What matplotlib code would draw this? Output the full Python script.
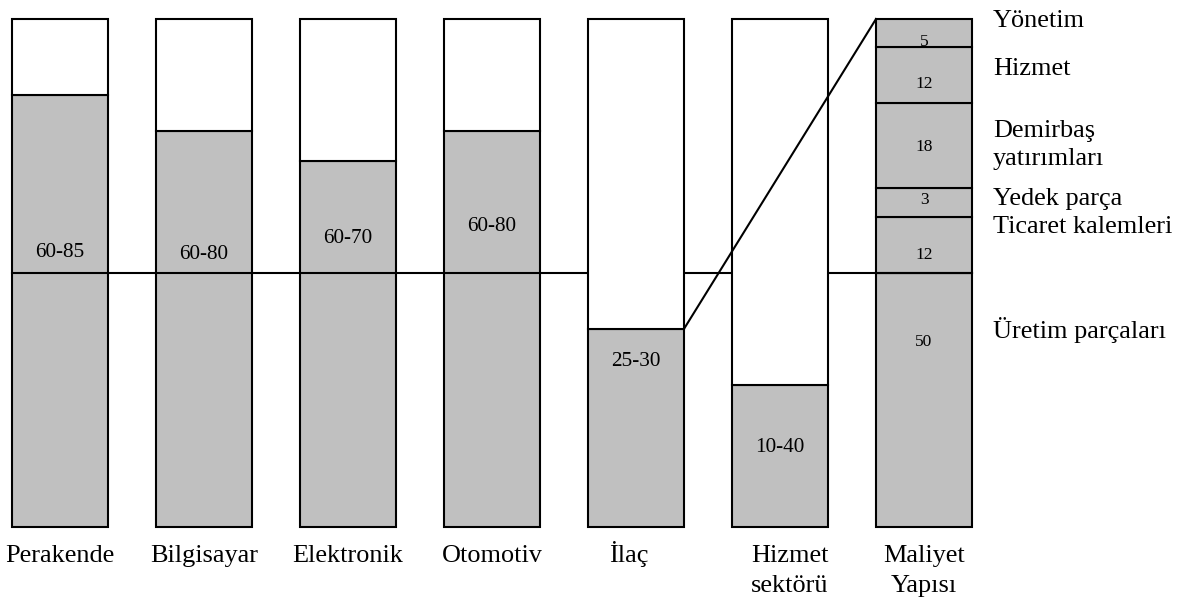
import numpy as np
import matplotlib.pyplot as plt

plt.rcParams['font.family'] = ['Liberation Serif', 'DejaVu Serif']

# sektorler ve gri kisim yukseklikleri (toplam = 100)
sectors = ['Perakende', 'Bilgisayar', 'Elektronik', 'Otomotiv', 'İlaç', 'Hizmet\nsektörü']
shares = [85, 78, 72, 78, 39, 28]
share_labels = ['60-85', '60-80', '60-70', '60-80', '25-30', '10-40']
share_label_y = [54.1, 53.7, 56.7, 59.1, 32.5, 15.6]

# maliyet yapisi dilimleri (alttan yukari)
cost_heights = [50, 11, 5.7, 16.7, 11, 5.6]
cost_labels = ['50', '12', '3', '18', '12', '5']
cost_label_y = [36.4, 53.5, 64.4, 74.8, 87.2, 95.5]
cost_names = ['Üretim parçaları', 'Ticaret kalemleri', 'Yedek parça', 'yatırımları', 'Demirbaş', 'Hizmet', 'Yönetim']
cost_name_y = [37.2, 57.9, 63.4, 71.3, 76.8, 89.0, 98.4]

gray = '#c0c0c0'
w = 96 / 144.0
lw = 1.5

fig = plt.figure(figsize=(11.93, 6.03), dpi=100)
ax = fig.add_axes([0, 0, 1, 1])
ax.set_xlim(-60 / 144.0, (1193 - 60) / 144.0)
ax.set_ylim(-(603 - 527) / 5.08, 100 + 19 / 5.08)
ax.axis('off')

x = np.arange(len(sectors))
n = len(sectors)

# gri kisim
ax.bar(x, shares, width=w, color=gray, edgecolor='black', linewidth=lw, zorder=1)
# beyaz kisim
ax.bar(x, [100 - s for s in shares], bottom=shares, width=w, color='white',
       edgecolor='black', linewidth=lw, zorder=3)

# maliyet yapisi
bottom = 0
for h in cost_heights:
    ax.bar(n, h, bottom=bottom, width=w, color=gray, edgecolor='black', linewidth=lw, zorder=1)
    bottom += h

# 50 cizgisi
ax.plot([-w / 2, n + w / 2], [50, 50], color='black', lw=lw, zorder=2)

# ilac -> maliyet yapisi
ax.plot([4 + w / 2, n - w / 2], [shares[4], 100], color='black', lw=lw, zorder=4)

for i in range(len(sectors)):
    ax.text(x[i], share_label_y[i], share_labels[i], ha='center', va='center', fontsize=15.3, zorder=5)

for lab, yy in zip(cost_labels, cost_label_y):
    ax.text(n, yy, lab, ha='center', va='center', fontsize=12.5, zorder=5)

for name, yy in zip(cost_names, cost_name_y):
    ax.text(n + (993 - 924) / 144.0, yy, name, ha='left', va='baseline', fontsize=18.9)

names = sectors + ['Maliyet\nYapısı']
offs = [0, 0, 0, 0, -0.05, 0.07, 0]
for i, name in enumerate(names):
    for k, line in enumerate(name.split('\n')):
        ax.text(i + offs[i], -6.9 - k * 5.9, line, ha='center', va='baseline', fontsize=18.9)

plt.savefig('out.png', dpi=100)
